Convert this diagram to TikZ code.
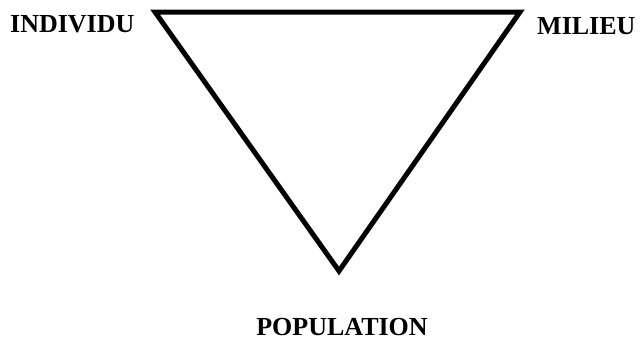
\documentclass[tikz,border=0pt]{standalone}
\usepackage{fontspec}
\setmainfont{Liberation Serif}
\usepackage{tikz}
\usetikzlibrary{positioning, calc}
\tikzset{
	sommet/.style ={font=\fontsize{26}{30}\selectfont\bfseries, inner sep=0pt},
	cote/.style   ={line width=5pt, line join=miter},
}
\begin{document}
\begin{tikzpicture}[x=1pt, y=-1pt]
	\useasboundingbox (0,0) rectangle (640,341);
	% triangle
	\coordinate (gauche) at (155,12);
	\coordinate (droite) at (520,12);
	\coordinate (bas) at (339,271);
	\draw[cote] (gauche) -- (droite) -- (bas) -- cycle;
	% labels
	\node[sommet, anchor=base west] (individu) at (10,32) {INDIVIDU};
	\node[sommet, anchor=base west] (milieu) at (537,34) {MILIEU};
	\node[sommet, anchor=base] (population) at (342,335) {POPULATION};
\end{tikzpicture}
\end{document}
